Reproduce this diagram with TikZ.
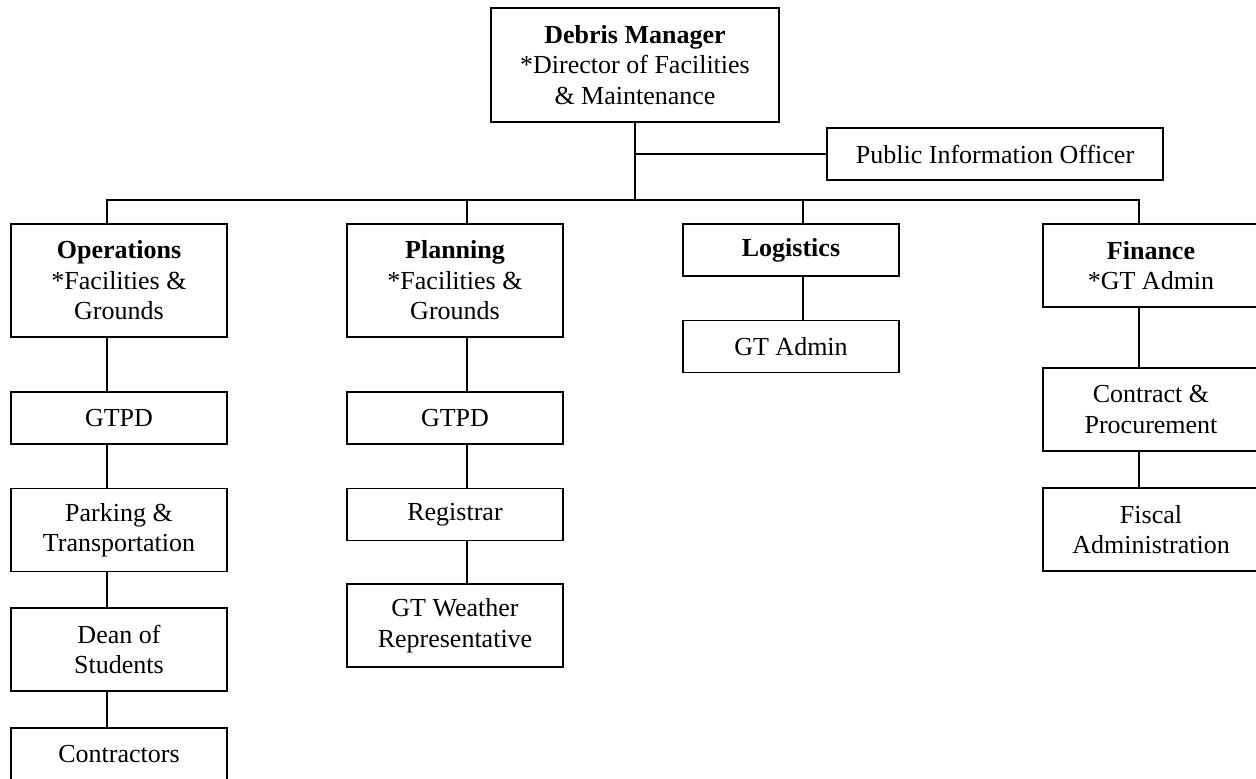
\documentclass[tikz,border=0pt]{standalone}
\usepackage{fontspec}
\setmainfont{Liberation Serif}
\begin{document}
\begin{tikzpicture}[x=0.5pt, y=-0.5pt,
  box/.style={draw, line width=0.7pt, inner sep=0pt, align=center,
    minimum width=108pt, minimum height=26pt,
    font=\fontsize{13}{15.25}\selectfont},
  tall/.style={minimum height=41.5pt},
  link/.style={line width=0.7pt}]
  \useasboundingbox (0,0) rectangle (1256,779);

  % top
  \node[box, minimum width=144pt, minimum height=57pt] (dm) at (635,65)
    {\textbf{Debris Manager}\\{}*Director of Facilities\\\& Maintenance};
  \node[box, minimum width=168pt] (pio) at (995,154) {Public Information Officer};

  % sections
  \node[box, minimum height=56.5pt] (ops) at (119,280.5) {\textbf{Operations}\\{}*Facilities \&\\Grounds};
  \node[box, minimum height=56.5pt] (plan) at (455,280.5) {\textbf{Planning}\\{}*Facilities \&\\Grounds};
  \node[box] (log) at (791,250) {\textbf{Logistics}};
  \node[box, tall] (fin) at (1151,265.5) {\textbf{Finance}\\{}*GT Admin};

  % operations column
  \node[box] (opsgtpd) at (119,418) {GTPD};
  \node[box, tall] (park) at (119,530) {Parking \&\\Transportation};
  \node[box, tall] (dean) at (119,649.5) {Dean of\\Students};
  \node[box] (contr) at (119,754) {Contractors};

  % planning column
  \node[box] (plangtpd) at (455,418) {GTPD};
  \node[box] (reg) at (455,514.5) {Registrar};
  \node[box, tall] (wx) at (455,625.5) {GT Weather\\Representative};

  % logistics column
  \node[box] (logadm) at (791,346.5) {GT Admin};

  % finance column
  \node[box, tall] (cp) at (1151,409.5) {Contract \&\\Procurement};
  \node[box, tall] (fisc) at (1151,529.5) {Fiscal\\Administration};

  % bus
  \coordinate (busL) at (107,200);
  \coordinate (planx) at (467,200);
  \coordinate (logx) at (803,200);
  \coordinate (busR) at (1139,200);

  \draw[link] (dm.south) -- (dm.south |- busL);
  \draw[link] (dm.south |- pio.west) -- (pio.west);
  \draw[link] (ops.north -| busL) -- (busL) -- (busR) -- (fin.north -| busR);
  \draw[link] (planx) -- (plan.north -| planx);
  \draw[link] (logx) -- (log.north -| logx);

  \foreach \a/\b in {ops/opsgtpd, opsgtpd/park, park/dean, dean/contr}
    \draw[link] (\a.south -| busL) -- (\b.north -| busL);
  \foreach \a/\b in {plan/plangtpd, plangtpd/reg, reg/wx}
    \draw[link] (\a.south -| planx) -- (\b.north -| planx);
  \draw[link] (log.south -| logx) -- (logadm.north -| logx);
  \foreach \a/\b in {fin/cp, cp/fisc}
    \draw[link] (\a.south -| busR) -- (\b.north -| busR);
\end{tikzpicture}
\end{document}
